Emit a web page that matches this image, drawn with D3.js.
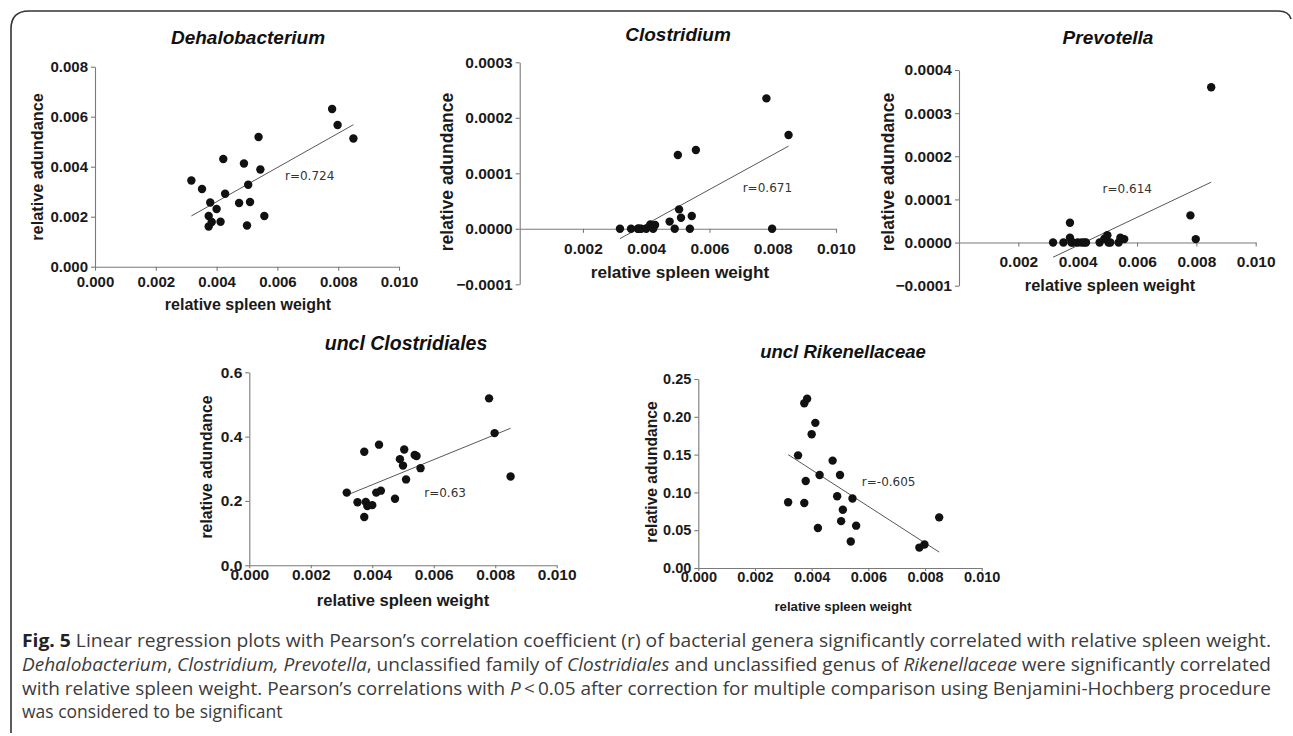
<!DOCTYPE html>
<html><head><meta charset="utf-8">
<script src="https://cdn.jsdelivr.net/npm/d3@7"></script>
<style>body{margin:0;background:#fff}svg{display:block}</style>
</head><body><svg id="c" width="1293" height="736"></svg>
<script>
// ---------- DATA ----------
const spleenWeight = [0.00317,0.00352,0.00374,0.00374,0.00379,0.00384,0.00400,0.00413,0.00422,0.00428,0.00474,0.00490,0.00500,0.00504,0.00510,0.00538,0.00544,0.00557,0.00780,0.00798,0.00850];
const dehalobacterium = [0.00345,0.00311,0.00203,0.00161,0.00257,0.00179,0.00231,0.00180,0.00431,0.00292,0.00255,0.00413,0.00165,0.00328,0.00259,0.00519,0.00389,0.00203,0.00631,0.00567,0.00513];
const clostridium = [0,0,0,0,0,0,0,0.000008,0,0.000007,0.000013,0,0.000133,0.000035,0.000020,0,0.000023,0.000142,0.000235,0,0.000169];
const prevotella = [0,0,0.000046,0.000011,0,0,0,0,0,0,0,0.000009,0.000017,0,0,0,0.000011,0.000008,0.000063,0.000008,0.000360];
const unclClostridiales = [0.226,0.196,0.353,0.150,0.197,0.184,0.187,0.226,0.375,0.232,0.207,0.330,0.310,0.360,0.267,0.343,0.340,0.302,0.519,0.411,0.276];
const unclRikenellaceae = [0.087,0.149,0.218,0.086,0.115,0.224,0.177,0.192,0.053,0.123,0.142,0.095,0.123,0.062,0.077,0.035,0.092,0.056,0.027,0.031,0.067];
const panelTitles = ["Dehalobacterium","Clostridium","Prevotella","uncl Clostridiales","uncl Rikenellaceae"];
const rLabels = ["r=0.724","r=0.671","r=0.614","r=0.63","r=-0.605"];
const rLabelAt = [[0.00625,0.00363],[0.00705,0.0000733],[0.00484,0.000125],[0.00569,0.224],[0.00577,0.114]];
const fitX = [0.00317,0.0085];
const fitY = [[0.00203,0.00568],[-0.0000177,0.000149],[-0.000034,0.00014],[0.218,0.426],[0.150,0.021]];
const xTicksFull = [0,0.002,0.004,0.006,0.008,0.010];
const xTicksNoZero = [0.002,0.004,0.006,0.008,0.010];
const yDomains = [[0,0.008],[-0.0001,0.0003],[-0.0001,0.0004],[0,0.6],[0,0.25]];
const yTicks = [[0,0.002,0.004,0.006,0.008],[-0.0001,0,0.0001,0.0002,0.0003],[-0.0001,0,0.0001,0.0002,0.0003,0.0004],[0,0.2,0.4,0.6],[0,0.05,0.10,0.15,0.20,0.25]];
const yFormats = [".3f",".4f",".4f",".1f",".2f"];
const xLabel = "relative spleen weight";
const yLabel = "relative adundance";
const seriesList = [dehalobacterium,clostridium,prevotella,unclClostridiales,unclRikenellaceae];

// ---------- LAYOUT ----------
const layout = [
 {x0:95,x1:399,yT:66.7,yB:266.7,xt:xTicksFull,tick:4,xpad:6,tick_fs:15,title:[248,37,19],xl:[248,304,16],yl:[37,167,16.3]},
 {x0:519.7,x1:836,yT:62.3,yB:284.3,xt:xTicksNoZero,tick:4,xpad:10,tick_fs:15.5,title:[678,34,19],xl:[680,272,17.2],yl:[447,172,17.5]},
 {x0:959,x1:1255.7,yT:70,yB:285.7,xt:xTicksNoZero,tick:4,xpad:9,tick_fs:15.5,title:[1108,37,19],xl:[1110,285,16.4],yl:[888,172,17.5]},
 {x0:249.3,x1:556.7,yT:372.3,yB:565.3,xt:xTicksFull,tick:3,xpad:1,tick_fs:15.5,title:[406,343,19.5],xl:[403,600,16.6],yl:[206,467,15.8]},
 {x0:698.3,x1:981.7,yT:379,yB:568,xt:xTicksFull,tick:3,xpad:1,tick_fs:14.5,title:[843,351,18.5],xl:[843,606,13.2],yl:[651,472,15.6]}
];

const svg = d3.select("#c");
const FONT = "'Liberation Sans', Arial, Helvetica, sans-serif";
const AX = "#7a7a7a";

// frame
svg.append("path")
  .attr("d","M11,733 L11,29 Q11,11 29,11 L1278,11 Q1289,11 1291,19")
  .attr("fill","none").attr("stroke","#333").attr("stroke-width",1.6);

layout.forEach((L,i)=>{
  const data = spleenWeight.map((w,k)=>({x:w,y:seriesList[i][k]}));
  const x = d3.scaleLinear().domain([0,0.010]).range([L.x0,L.x1]);
  const y = d3.scaleLinear().domain(yDomains[i]).range([L.yB,L.yT]);
  const g = svg.append("g");

  const xa = d3.axisBottom(x).tickValues(L.xt).tickFormat(d3.format(".3f"))
     .tickSize(L.tick).tickPadding(L.xpad).tickSizeOuter(0);
  const gx = g.append("g").attr("transform",`translate(0,${y(0)})`).call(xa);
  const ya = d3.axisLeft(y).tickValues(yTicks[i]).tickFormat(d3.format(yFormats[i]))
     .tickSize(4).tickPadding(3).tickSizeOuter(0);
  const gy = g.append("g").attr("transform",`translate(${x(0)},0)`).call(ya);
  [gx,gy].forEach(a=>{
    a.select(".domain").attr("stroke",AX).attr("stroke-width",1.1);
    a.selectAll(".tick line").attr("stroke",AX).attr("stroke-width",1.1);
    a.selectAll(".tick text").attr("fill","#1a1a1a").attr("font-family",FONT)
      .attr("font-weight","bold").attr("font-size",L.tick_fs);
  });

  // fit line
  g.append("line")
    .attr("x1",x(fitX[0])).attr("y1",y(fitY[i][0]))
    .attr("x2",x(fitX[1])).attr("y2",y(fitY[i][1]))
    .attr("stroke","#444").attr("stroke-width",0.9);

  // points
  g.selectAll("circle.p").data(data).join("circle")
    .attr("cx",d=>x(d.x)).attr("cy",d=>y(d.y)).attr("r",4.2).attr("fill","#111");

  // r label
  g.append("text").attr("x",x(rLabelAt[i][0])).attr("y",y(rLabelAt[i][1]))
    .attr("dominant-baseline","central").attr("font-family","'DejaVu Sans', Verdana, sans-serif")
    .attr("font-size",12).attr("fill","#333").text(rLabels[i]);

  // title
  g.append("text").attr("x",L.title[0]).attr("y",L.title[1]).attr("text-anchor","middle")
    .attr("dominant-baseline","central").attr("font-family",FONT).attr("font-weight","bold")
    .attr("font-style","italic").attr("font-size",L.title[2]).attr("fill","#111").text(panelTitles[i]);
  // x label
  g.append("text").attr("x",L.xl[0]).attr("y",L.xl[1]).attr("text-anchor","middle")
    .attr("dominant-baseline","central").attr("font-family",FONT).attr("font-weight","bold")
    .attr("font-size",L.xl[2]).attr("fill","#1a1a1a").text(xLabel);
  // y label
  g.append("text").attr("transform",`translate(${L.yl[0]},${L.yl[1]}) rotate(-90)`)
    .attr("text-anchor","middle").attr("dominant-baseline","central").attr("font-family",FONT)
    .attr("font-weight","bold").attr("font-size",L.yl[2]).attr("fill","#1a1a1a").text(yLabel);
});

// ---------- CAPTION ----------
const captionLines = [
 [["b","Fig. 5"],["n"," Linear regression plots with Pearson\u2019s correlation coefficient (r) of bacterial genera significantly correlated with relative spleen weight."]],
 [["i","Dehalobacterium"],["n",", "],["i","Clostridium, Prevotella"],["n",", unclassified family of "],["i","Clostridiales"],["n"," and unclassified genus of "],["i","Rikenellaceae"],["n"," were significantly correlated"]],
 [["n","with relative spleen weight. Pearson\u2019s correlations with "],["i","P"],["n","\u2009<\u20090.05 after correction for multiple comparison using Benjamini-Hochberg procedure"]],
 [["n","was considered to be significant"]]
];
const capY = [647,671,695,718];
captionLines.forEach((segs,li)=>{
  const t = svg.append("text").attr("x",22).attr("y",capY[li])
    .attr("font-family","'Open Sans', 'Noto Sans', sans-serif").attr("font-size",17.5).attr("fill","#3c3c3c");
  segs.forEach(([k,s])=>{
    const ts = t.append("tspan").text(s);
    if(k==="b") ts.attr("font-weight","bold").attr("fill","#222");
    if(k==="i") ts.attr("font-style","italic");
  });
  if(li<3){ t.attr("textLength",1249).attr("lengthAdjust","spacingAndGlyphs"); }
});
</script></body></html>
